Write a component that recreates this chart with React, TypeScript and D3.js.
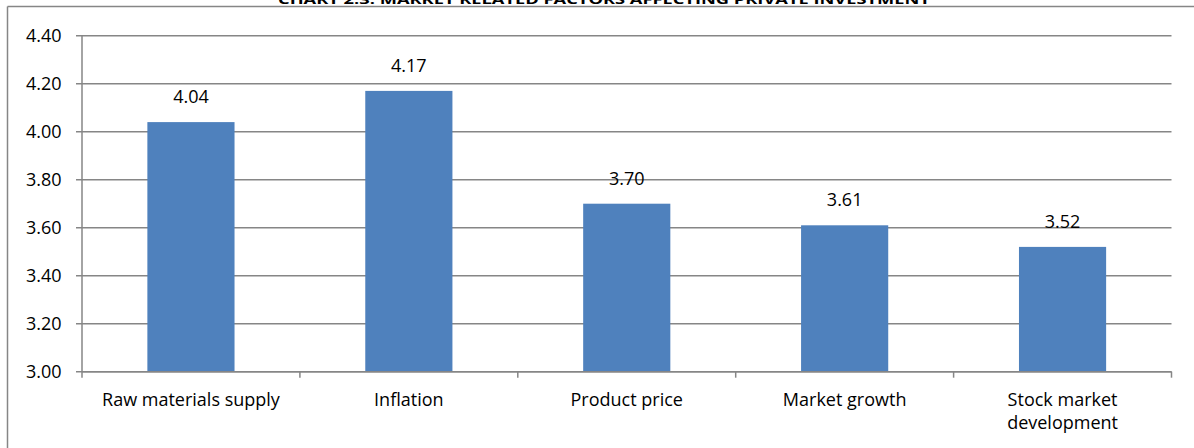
import React from "react";
import * as d3 from "d3";

const categories: string[][] = [
  ["Raw materials supply"],
  ["Inflation"],
  ["Product price"],
  ["Market growth"],
  ["Stock market", "development"],
];
const values: number[] = [4.04, 4.17, 3.7, 3.61, 3.52];
const yTicks: number[] = [3.0, 3.2, 3.4, 3.6, 3.8, 4.0, 4.2, 4.4];
const title = "CHART 2.3: MARKET RELATED FACTORS AFFECTING PRIVATE INVESTMENT";

const W = 1194;
const H = 448;
const plotLeft = 82;
const plotRight = 1171.5;
const plotTop = 35.7;
const plotBottom = 371.7;
const FONT = "'Open Sans', Lato, sans-serif";

export default function App() {
  const x = d3
    .scaleBand<number>()
    .domain(values.map((_, i) => i))
    .range([plotLeft, plotRight])
    .paddingInner(0.6)
    .paddingOuter(0.3);
  const band = (plotRight - plotLeft) / values.length;
  const y = d3.scaleLinear().domain([3.0, 4.4]).range([plotBottom, plotTop]);
  const grid = "#868686";
  const fs = 18;

  return (
    <svg
      width={W}
      height={H}
      style={{ position: "absolute", left: 0, top: 0, display: "block" }}
      fontFamily={FONT}
    >
      <rect x={0} y={0} width={W} height={H} fill="#fff" />
      {/* title (cut off at top, as in the reference) */}
      <text
        x={278}
        y={3.5}
        textLength={652}
        lengthAdjust="spacingAndGlyphs"
        fontSize={13}
        fontWeight="bold"
        fill="#000"
      >
        {title}
      </text>
      {/* outer border */}
      <line x1={7.5} y1={6.5} x2={1194} y2={6.5} stroke={grid} strokeWidth={1.5} />
      <line x1={7.5} y1={6.5} x2={7.5} y2={H} stroke={grid} strokeWidth={1.5} />

      {/* gridlines */}
      {yTicks.map((t) => (
        <g key={t}>
          <line
            x1={plotLeft - 6}
            x2={plotRight}
            y1={y(t)}
            y2={y(t)}
            stroke={grid}
            strokeWidth={1.5}
          />
          <text
            x={61.5}
            y={y(t)}
            dy="0.36em"
            textAnchor="end"
            fontSize={fs}
            fill="#000"
          >
            {t.toFixed(2)}
          </text>
        </g>
      ))}
      {/* y axis */}
      <line x1={plotLeft} x2={plotLeft} y1={plotTop} y2={plotBottom} stroke={grid} strokeWidth={1.5} />

      {/* bars */}
      {values.map((v, i) => (
        <g key={i}>
          <rect
            x={x(i)!}
            y={y(v)}
            width={x.bandwidth()}
            height={plotBottom - y(v)}
            fill="#4F81BD"
          />
          <text
            x={x(i)! + x.bandwidth() / 2}
            y={y(v) - 19}
            textAnchor="middle"
            fontSize={fs}
            fill="#000"
          >
            {v.toFixed(2)}
          </text>
        </g>
      ))}

      {/* x axis */}
      <line x1={plotLeft} x2={plotRight} y1={plotBottom} y2={plotBottom} stroke={grid} strokeWidth={1.5} />
      {d3.range(values.length + 1).map((i) => (
        <line
          key={i}
          x1={plotLeft + i * band}
          x2={plotLeft + i * band}
          y1={plotBottom}
          y2={plotBottom + 6}
          stroke={grid}
          strokeWidth={1.5}
        />
      ))}
      {categories.map((lines, i) => (
        <text
          key={i}
          x={x(i)! + x.bandwidth() / 2}
          y={405.5}
          textAnchor="middle"
          fontSize={fs}
          fill="#000"
        >
          {lines.map((l, j) => (
            <tspan key={j} x={x(i)! + x.bandwidth() / 2} dy={j === 0 ? 0 : 23}>
              {l}
            </tspan>
          ))}
        </text>
      ))}
    </svg>
  );
}
